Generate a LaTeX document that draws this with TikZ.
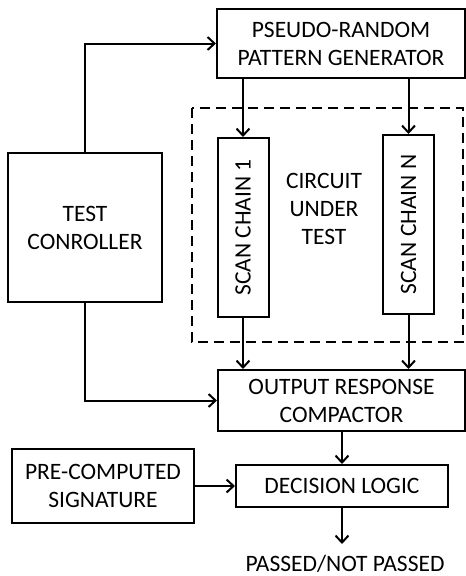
\documentclass[tikz,border=0pt]{standalone}
\usepackage{fontspec}
\setmainfont{Carlito}
\usetikzlibrary{arrows.meta}
\begin{document}
\begin{tikzpicture}[x=1pt,y=-1pt,
  box/.style={draw,line width=2pt,inner sep=0pt,align=center,font=\fontsize{23.5}{28}\selectfont},
  conn/.style={line width=2pt,-{Straight Barb[length=7pt,width=13pt,line width=2pt]}},
  lbl/.style={inner sep=0pt,align=center,font=\fontsize{23.5}{28}\selectfont}]
\useasboundingbox (0,0) rectangle (466,576);
\draw[line width=2pt,dash pattern=on 10pt off 6pt] (192,108) rectangle (463,342);
\node[box,minimum width=248pt,minimum height=69pt] (prpg) at (341,43.5) {PSEUDO-RANDOM\\PATTERN GENERATOR};
\node[box,minimum width=154pt,minimum height=149pt] (ctrl) at (85,227.5) {TEST\\CONROLLER};
\node[box,minimum width=51pt,minimum height=179pt] (s1) at (243,227.5) {\rotatebox{90}{SCAN CHAIN 1}};
\node[box,minimum width=51pt,minimum height=179pt] (sn) at (408.5,224.5) {\rotatebox{90}{SCAN CHAIN N}};
\node[lbl] (cut) at (324,209) {CIRCUIT\\UNDER\\TEST};
\node[box,minimum width=247pt,minimum height=61pt] (orc) at (341.5,400.5) {OUTPUT RESPONSE\\COMPACTOR};
\node[box,minimum width=212pt,minimum height=42pt] (dl) at (342,486) {DECISION LOGIC};
\node[box,minimum width=182pt,minimum height=74pt] (pcs) at (103,486) {PRE-COMPUTED\\SIGNATURE};
\node[inner sep=0pt,anchor=base,font=\fontsize{23.5}{28}\selectfont] (out) at (345,571) {PASSED/NOT PASSED};
\coordinate (outend) at (342,544);
\draw[conn] (ctrl.north) |- (prpg.west);
\draw[conn] (ctrl.south) |- (orc.west);
\draw[conn] (prpg.south -| s1.north) -- (s1.north);
\draw[conn] (prpg.south -| sn.north) -- (sn.north);
\draw[conn] (s1.south) -- (s1.south |- orc.north);
\draw[conn] (sn.south) -- (sn.south |- orc.north);
\draw[conn] (dl.north |- orc.south) -- (dl.north);
\draw[conn] (pcs.east) -- (dl.west);
\draw[conn] (dl.south) -- (outend);
\end{tikzpicture}
\end{document}
